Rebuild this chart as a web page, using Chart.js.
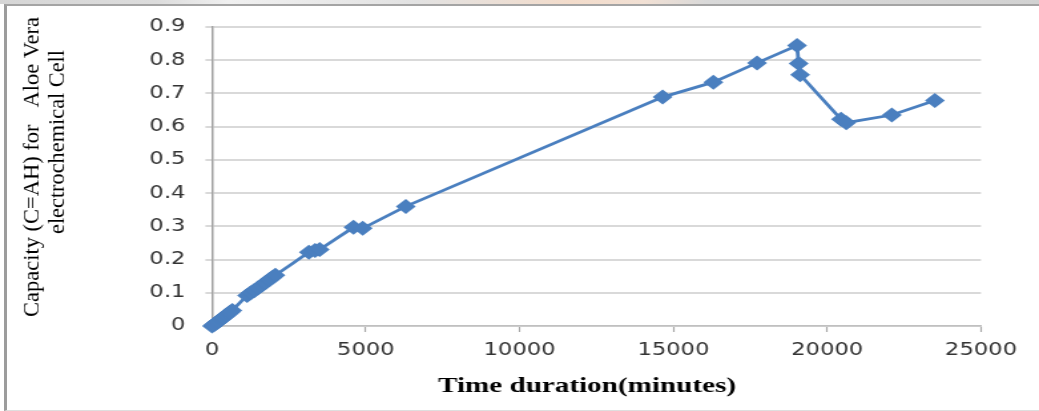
<!DOCTYPE html>
<html>
<head>
<meta charset="utf-8">
<title>Capacity vs time</title>
<script src="https://cdn.jsdelivr.net/npm/chart.js@4/dist/chart.umd.min.js"></script>
<style>
  html, body { margin: 0; padding: 0; background: #fff; }
  #wrap { position: relative; width: 1039px; height: 411px; overflow: hidden; }
  #band { position: absolute; left: 0; top: 0; width: 1039px; height: 4px;
          background: linear-gradient(to right, #d6d6d6 0%, #dcdcdc 15%, #f0f0f0 22%, #e2e2e2 40%, #f3dccb 55%, #f1e0d4 62%, #d9d9d9 68%, #d2d2d2 100%); }
  #frame { position: absolute; left: 4px; top: 4px; width: 1040px; height: 404px;
           border-top: 2px solid #a4a4a4; border-left: 3px solid #9c9c9c; border-bottom: 1px solid #dedede; }
  #chart { position: absolute; left: 0; top: 0; }
</style>
</head>
<body>
<div id="wrap">
  <div id="band"></div>
  <div id="frame"></div>
  <canvas id="chart" width="781" height="411" style="width:1039px;height:411px"></canvas>
</div>
<script>
// Time since start (minutes) and measured capacity (Ah)
const timeMinutes = [
  0, 60, 120, 180, 240, 300, 360, 420, 480, 540, 600, 660,
  1140, 1260, 1380, 1500, 1620, 1740, 1860, 1960, 2060,
  3150, 3350, 3500,
  4600, 4900,
  6300,
  14650, 16300, 17720, 19020, 19070, 19120, 20450, 20620, 22100, 23500
];
const capacityAh = [
  0, 0.004, 0.008, 0.012, 0.016, 0.021, 0.025, 0.029, 0.034, 0.038, 0.042, 0.047,
  0.092, 0.1, 0.107, 0.115, 0.123, 0.131, 0.139, 0.146, 0.153,
  0.222, 0.227, 0.23,
  0.297, 0.294,
  0.36,
  0.689, 0.734, 0.792, 0.844, 0.79, 0.756, 0.622, 0.612, 0.635, 0.679
];

const xTickValues = [0, 5000, 10000, 15000, 20000, 25000];
const xTickLabels = ['0', '5000', '10000', '15000', '20000', '25000'];
const yTickValues = [0, 0.1, 0.2, 0.3, 0.4, 0.5, 0.6, 0.7, 0.8, 0.9];
const yTickLabels = ['0', '0.1', '0.2', '0.3', '0.4', '0.5', '0.6', '0.7', '0.8', '0.9'];

const xTitle = 'Time duration(minutes)';
const yTitleLines = ['Capacity (C=AH) for   Aloe Vera', 'electrochemical Cell'];

// canvas is drawn narrow and widened by CSS
const STRETCH = 1039 / 781;
const px = v => v / STRETCH;

const tickFont = { family: '"DejaVu Sans", Verdana, sans-serif', size: 17 };
const blue = '#4a7fbf';

// draw text squeezed/stretched to a given length along its baseline
function fitText(ctx, text, len, sy) {
  const w = ctx.measureText(text).width;
  ctx.scale(len / w, sy);
  ctx.fillText(text, 0, 0);
}

const axisTitles = {
  id: 'axisTitles',
  afterDraw(chart) {
    const ctx = chart.ctx;
    ctx.save();
    ctx.fillStyle = '#000';
    ctx.textAlign = 'center';
    ctx.textBaseline = 'alphabetic';

    ctx.save();
    ctx.font = 'bold 21px "Liberation Serif", "Times New Roman", serif';
    ctx.translate(px(587), 392);
    fitText(ctx, xTitle, px(298), 1);
    ctx.restore();

    ctx.font = '20px "Liberation Serif", "Times New Roman", serif';
    const lines = [
      { x: 38, y: 167, len: 300 },
      { x: 64, y: 142, len: 184 }
    ];
    yTitleLines.forEach((t, i) => {
      ctx.save();
      ctx.translate(px(lines[i].x), lines[i].y);
      ctx.rotate(-Math.PI / 2);
      fitText(ctx, t, lines[i].len, 0.8);
      ctx.restore();
    });
    ctx.restore();
  }
};

const points = timeMinutes.map((t, i) => ({ x: t, y: capacityAh[i] }));

new Chart(document.getElementById('chart'), {
  type: 'line',
  data: {
    datasets: [{
      data: points,
      borderColor: blue,
      backgroundColor: blue,
      borderWidth: 2.8,
      tension: 0,
      pointStyle: 'rectRot',
      pointRadius: 7.5,
      pointBorderWidth: 0,
      pointBackgroundColor: blue,
      clip: false
    }]
  },
  options: {
    responsive: false,
    devicePixelRatio: 1,
    animation: false,
    layout: { padding: { left: 0, top: 27, right: 781 - px(981), bottom: 0 } },
    plugins: {
      legend: { display: false },
      tooltip: { enabled: false }
    },
    scales: {
      x: {
        type: 'linear',
        min: 0,
        max: 25000,
        afterBuildTicks: s => { s.ticks = xTickValues.map(v => ({ value: v })); },
        afterFit: s => { s.height = 411 - 326; },
        grid: { drawOnChartArea: false, drawTicks: true, tickLength: 6, tickColor: '#a8a8a8', tickWidth: 1.2 },
        border: { color: '#c0c0c0', width: 1.5 },
        ticks: {
          padding: 8,
          font: tickFont,
          color: '#333',
          maxRotation: 0,
          autoSkip: false,
          callback: (v, i) => xTickLabels[i]
        }
      },
      y: {
        min: 0,
        max: 0.9,
        afterBuildTicks: s => { s.ticks = yTickValues.map(v => ({ value: v })); },
        afterFit: s => { s.width = px(212); },
        grid: { color: '#d9d9d9', lineWidth: 2, tickLength: 5, tickColor: '#d9d9d9' },
        border: { color: '#a0a0a0', width: 1.5 },
        ticks: {
          padding: 15,
          font: tickFont,
          color: '#333',
          autoSkip: false,
          callback: (v, i) => yTickLabels[i]
        }
      }
    }
  },
  plugins: [axisTitles]
});
</script>
</body>
</html>
